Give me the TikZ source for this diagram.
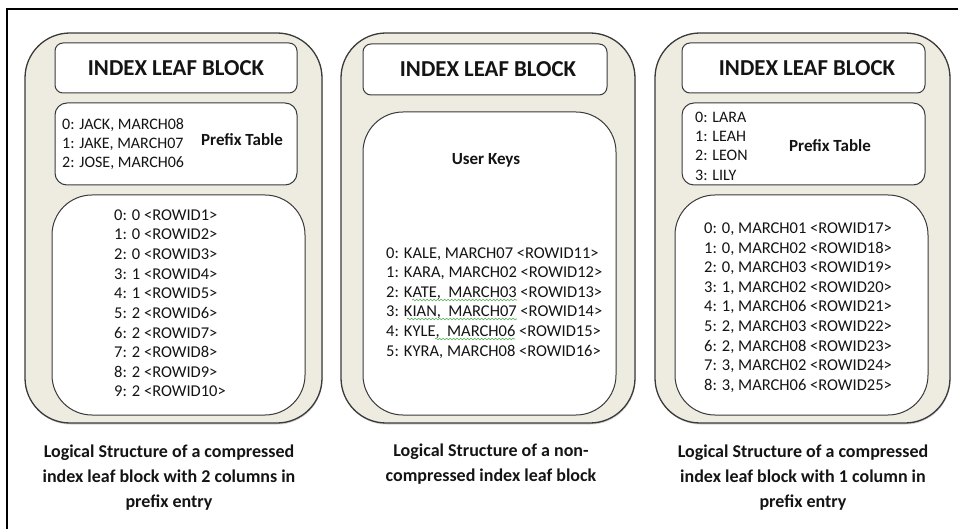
\documentclass[tikz,border=0pt]{standalone}
\usepackage{fontspec}
\setmainfont{Carlito}
\usetikzlibrary{decorations.pathmorphing,shadows}
\definecolor{panelfill}{HTML}{EEECE1}
\definecolor{edgecol}{HTML}{3A3A3A}
\definecolor{txtcol}{HTML}{141414}
\definecolor{squig}{HTML}{4CAF50}
\begin{document}
\begin{tikzpicture}[x=1pt,y=-1pt,
  box/.style={anchor=north west,inner sep=0pt,outer sep=0pt},
  panel/.style={box,draw=edgecol,line width=1.3pt,fill=panelfill,rounded corners=45pt,
    drop shadow={shadow xshift=0.5pt,shadow yshift=-1.5pt,opacity=0.35}},
  headbox/.style={box,draw=edgecol,line width=1pt,fill=white,rounded corners=8pt},
  tablebox/.style={box,draw=edgecol,line width=1pt,fill=white,rounded corners=12pt},
  bodybox/.style={box,draw=edgecol,line width=1pt,fill=white,rounded corners=40pt},
  headtxt/.style={font=\fontsize{22.8}{26}\selectfont\bfseries,text=txtcol,inner sep=0pt},
  labtxt/.style={font=\fontsize{17}{20}\selectfont\bfseries,text=txtcol,inner sep=0pt},
  entry/.style={font=\fontsize{16.5}{19.6}\selectfont,text=txtcol,inner sep=0pt,anchor=west},
  tabentry/.style={font=\fontsize{16}{19.6}\selectfont,text=txtcol,inner sep=0pt,anchor=west},
  captxt/.style={font=\fontsize{18}{25}\selectfont\bfseries,text=txtcol,align=center,inner sep=0pt},
  squiggle/.style={draw=squig,line width=0.6pt,decorate,decoration={snake,amplitude=0.8pt,segment length=3.5pt}}
]
\useasboundingbox (0,0) rectangle (958,529);
% frame
\coordinate (ftl) at (7,9);
\coordinate (ftr) at (958,9);
\coordinate (fbl) at (7,529);
\draw[line width=2pt,black] (fbl) -- (ftl) -- (ftr);

% ---------- Panel 1 ----------
\node[panel,minimum width=297pt,minimum height=390pt] (p1) at (25,33) {};
\node[headbox,minimum width=242pt,minimum height=50pt] (h1) at (55,43) {};
\node[headtxt] (h1t) at (176,68) {INDEX LEAF BLOCK};
\node[tablebox,minimum width=242pt,minimum height=82pt] (t1) at (55,103) {};
\node[tabentry] (t1a) at (62,125) {0: JACK, MARCH08};
\node[tabentry] (t1b) at (62,144) {1: JAKE, MARCH07};
\node[tabentry] (t1c) at (62,163) {2: JOSE, MARCH06};
\node[labtxt] (t1l) at (242,140) {Prefix Table};
\node[bodybox,minimum width=253pt,minimum height=220pt] (b1) at (52,195) {};
\foreach \i/\t in {0/{0: 0 <ROWID1>},1/{1: 0 <ROWID2>},2/{2: 0 <ROWID3>},3/{3: 1 <ROWID4>},4/{4: 1 <ROWID5>},5/{5: 2 <ROWID6>},6/{6: 2 <ROWID7>},7/{7: 2 <ROWID8>},8/{8: 2 <ROWID9>},9/{9: 2 <ROWID10>}}
  \node[entry] (e1-\i) at (114,215+19.6*\i) {\t};
\node[captxt] (c1) at (169,478) {Logical Structure of a compressed\\index leaf block with 2 columns in\\prefix entry};

% ---------- Panel 2 ----------
\node[panel,minimum width=294pt,minimum height=390pt] (p2) at (341,33) {};
\node[headbox,minimum width=244pt,minimum height=51pt] (h2) at (363,44) {};
\node[headtxt] (h2t) at (488,69) {INDEX LEAF BLOCK};
\node[bodybox,minimum width=253pt,minimum height=303pt] (b2) at (363,112) {};
\node[labtxt] (b2l) at (486,160) {User Keys};
\foreach \i/\t in {0/{0: KALE, MARCH07 <ROWID11>},1/{1: KARA, MARCH02 <ROWID12>},2/{2: KATE,\ \ MARCH03 <ROWID13>},3/{3: KIAN,\ \ MARCH07 <ROWID14>},4/{4: KYLE,\ \ MARCH06 <ROWID15>},5/{5: KYRA, MARCH08 <ROWID16>}}
  \node[entry] (e2-\i) at (386,254+19.5*\i) {\t};
\coordinate (s1a) at (412,300); \coordinate (s1b) at (517,300);
\coordinate (s2a) at (407,319); \coordinate (s2b) at (517,319);
\coordinate (s3a) at (435,339); \coordinate (s3b) at (515,339);
\draw[squiggle] (s1a) -- (s1b);
\draw[squiggle] (s2a) -- (s2b);
\draw[squiggle] (s3a) -- (s3b);
\node[captxt] (c2) at (491,464) {Logical Structure of a non-\\compressed index leaf block};

% ---------- Panel 3 ----------
\node[panel,minimum width=295pt,minimum height=390pt] (p3) at (655,33) {};
\node[headbox,minimum width=243pt,minimum height=50pt] (h3) at (682,43) {};
\node[headtxt] (h3t) at (807,68) {INDEX LEAF BLOCK};
\node[tablebox,minimum width=243pt,minimum height=82pt] (t3) at (682,103) {};
\node[tabentry] (t3a) at (695,117) {0: LARA};
\node[tabentry] (t3b) at (695,136) {1: LEAH};
\node[tabentry] (t3c) at (695,155.5) {2: LEON};
\node[tabentry] (t3d) at (695,175) {3: LILY};
\node[labtxt] (t3l) at (830,146) {Prefix Table};
\node[bodybox,minimum width=253pt,minimum height=220pt] (b3) at (675,195) {};
\foreach \i/\t in {0/{0: 0, MARCH01 <ROWID17>},1/{1: 0, MARCH02 <ROWID18>},2/{2: 0, MARCH03 <ROWID19>},3/{3: 1, MARCH02 <ROWID20>},4/{4: 1, MARCH06 <ROWID21>},5/{5: 2, MARCH03 <ROWID22>},6/{6: 2, MARCH08 <ROWID23>},7/{7: 3, MARCH02 <ROWID24>},8/{8: 3, MARCH06 <ROWID25>}}
  \node[entry] (e3-\i) at (704,229+19.6*\i) {\t};
\node[captxt] (c3) at (803,478) {Logical Structure of a compressed\\index leaf block with 1 column in\\prefix entry};
\end{tikzpicture}
\end{document}
